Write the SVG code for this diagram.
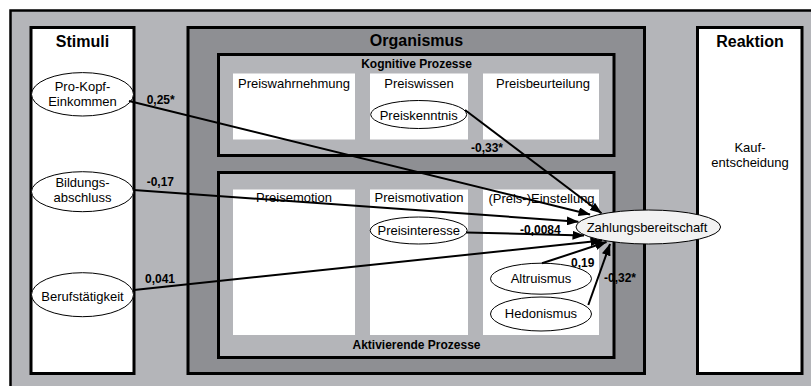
<svg xmlns="http://www.w3.org/2000/svg" width="811" height="386" viewBox="0 0 811 386">
<defs>
<style>
.frame{fill:#b4b5b9;stroke:#000;stroke-width:2.5}
.col{fill:#fff;stroke:#000;stroke-width:3}
.org{fill:#8e8f93;stroke:#000;stroke-width:3}
.proc{fill:#b4b5b9;stroke:#000;stroke-width:3}
.cell{fill:#fff;stroke:none}
.ell{fill:#fff;stroke:#000;stroke-width:1}
.target{fill:#f2f2f2;stroke:#000;stroke-width:1}
text{font-family:"Liberation Sans",Arial,sans-serif;fill:#000}
.h1{font-size:16px;font-weight:bold;text-anchor:middle}
.h2{font-size:12px;font-weight:bold;text-anchor:middle}
.t{font-size:13px;text-anchor:middle}
.lbl{font-size:12px;font-weight:bold}
.conn{stroke:#000;stroke-width:2;fill:none;marker-end:url(#arr)}
</style>
<marker id="arr" markerUnits="userSpaceOnUse" markerWidth="12" markerHeight="9" refX="11.5" refY="4.5" orient="auto">
<path d="M0,0 L12,4.5 L0,9 z" fill="#000"/>
</marker>
</defs>

<rect class="frame" x="10.5" y="10.5" width="812" height="390"/>

<g id="stimuli">
<rect class="col" x="31" y="27.5" width="103" height="346"/>
<text class="h1" x="82.5" y="46.5">Stimuli</text>
</g>

<g id="organismus">
<rect class="org" x="188" y="27.5" width="456.5" height="346"/>
<text class="h1" x="416.5" y="46">Organismus</text>
</g>

<g id="kognitive-prozesse">
<rect class="proc" x="218.5" y="54.5" width="395.5" height="101"/>
<text class="h2" x="416.5" y="67.5">Kognitive Prozesse</text>
<rect class="cell" x="233" y="73.5" width="122" height="66"/>
<rect class="cell" x="370" y="73.5" width="98" height="66"/>
<rect class="cell" x="483" y="73.5" width="116" height="66"/>
<text class="t" x="294" y="88">Preiswahrnehmung</text>
<text class="t" x="419" y="88">Preiswissen</text>
<text class="t" x="543" y="88">Preisbeurteilung</text>
</g>

<g id="aktivierende-prozesse">
<rect class="proc" x="218.5" y="172.5" width="395.5" height="185"/>
<text class="h2" x="416.5" y="349">Aktivierende Prozesse</text>
<rect class="cell" x="233" y="189.5" width="122" height="145.5"/>
<rect class="cell" x="370" y="189.5" width="98" height="145.5"/>
<rect class="cell" x="483" y="189.5" width="116" height="145.5"/>
<text class="t" x="294" y="202">Preisemotion</text>
<text class="t" x="419" y="202">Preismotivation</text>
<text class="t" x="541.5" y="202.5">(Preis-)Einstellung</text>
</g>

<g id="reaktion">
<rect class="col" x="697.5" y="27.5" width="104.5" height="346"/>
<text class="h1" x="750" y="46.5">Reaktion</text>
<text class="t" x="750" y="151.5">Kauf-</text>
<text class="t" x="750" y="167">entscheidung</text>
</g>

<g id="pro-kopf-einkommen">
<ellipse class="ell" cx="82.5" cy="94.3" rx="51" ry="21.7"/>
<text class="t" x="82.5" y="90.5">Pro-Kopf-</text>
<text class="t" x="82.5" y="106">Einkommen</text>
</g>

<g id="bildungsabschluss">
<ellipse class="ell" cx="82.5" cy="191.7" rx="51" ry="20"/>
<text class="t" x="82.5" y="186.5">Bildungs-</text>
<text class="t" x="82.5" y="201.7">abschluss</text>
</g>

<g id="berufstaetigkeit">
<ellipse class="ell" cx="82.5" cy="294.7" rx="51" ry="22"/>
<text class="t" x="82.5" y="300.5">Berufstätigkeit</text>
</g>

<g id="preiskenntnis">
<ellipse class="ell" cx="418.7" cy="114.5" rx="48" ry="14"/>
<text class="t" x="418.7" y="120">Preiskenntnis</text>
</g>

<g id="preisinteresse">
<ellipse class="ell" cx="418.7" cy="230.5" rx="48.5" ry="13.5"/>
<text class="t" x="418.7" y="235">Preisinteresse</text>
</g>

<g id="altruismus">
<ellipse class="ell" cx="541" cy="278.7" rx="50.5" ry="15.5"/>
<text class="t" x="541" y="283">Altruismus</text>
</g>

<g id="hedonismus">
<ellipse class="ell" cx="541" cy="314" rx="50.5" ry="17"/>
<text class="t" x="541" y="318">Hedonismus</text>
</g>

<g id="zahlungsbereitschaft">
<ellipse class="target" cx="648.3" cy="227" rx="72.3" ry="17"/>
<text class="t" x="647" y="231.5">Zahlungsbereitschaft</text>
</g>

<g id="connectors">
<line class="conn" x1="129" y1="101" x2="590" y2="214.5"/>
<line class="conn" x1="465" y1="110" x2="601.5" y2="213.3"/>
<line class="conn" x1="133.5" y1="190" x2="578.3" y2="221.7"/>
<line class="conn" x1="466" y1="232.5" x2="584" y2="235.5"/>
<line class="conn" x1="134" y1="290" x2="602" y2="240.5"/>
<line class="conn" x1="542" y1="263.3" x2="606.5" y2="242"/>
<line class="conn" x1="588.3" y1="305" x2="610" y2="244"/>
<text class="lbl" x="146.7" y="104">0,25*</text>
<text class="lbl" x="146.7" y="185.7">-0,17</text>
<text class="lbl" x="145" y="282.5">0,041</text>
<text class="lbl" x="471" y="151.5">-0,33*</text>
<text class="lbl" x="520" y="233.5">-0,0084</text>
<text class="lbl" x="571" y="267">0,19</text>
<text class="lbl" x="604" y="282">-0,32*</text>
</g>
</svg>
